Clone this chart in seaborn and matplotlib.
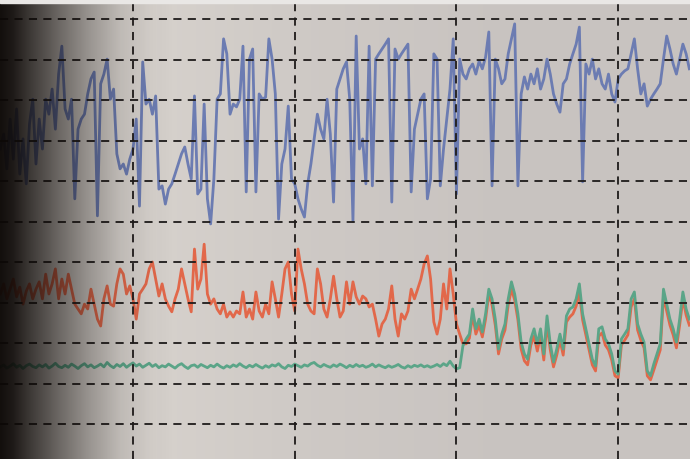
import numpy as np
import pandas as pd
import matplotlib
matplotlib.use("Agg")
import matplotlib.pyplot as plt
import seaborn as sns
from matplotlib.colors import to_rgb

# sample index (grid line every 50 samples)
t = np.arange(9, 223)

blue = [
    67.9, 71.6, 63.0, 75.3, 65.4, 77.8, 61.7, 70.4, 59.3, 74.1,
    80.2, 64.2, 75.3, 67.9, 80.2, 76.5, 82.7, 72.8, 86.4, 93.3,
    77.8, 75.3, 80.2, 55.6, 72.8, 75.3, 76.5, 81.5, 85.2, 86.9,
    51.4, 84.0, 86.4, 90.1, 80.2, 82.7, 66.7, 63.0, 64.2, 61.7,
    65.4, 67.9, 75.3, 53.8, 89.4, 79.0, 80.2, 76.5, 81.0, 58.0,
    58.8, 54.3, 58.0, 59.3, 61.7, 64.2, 66.7, 68.4, 64.2, 60.5,
    81.0, 56.8, 58.0, 79.0, 55.6, 49.4, 60.5, 80.2, 81.5, 95.1,
    91.4, 76.5, 79.0, 78.3, 80.2, 93.3, 57.3, 90.1, 92.6, 57.3,
    81.5, 80.2, 80.7, 95.1, 90.1, 81.5, 50.6, 64.2, 67.9, 78.5,
    60.5, 59.3, 55.6, 53.1, 51.1, 59.3, 64.2, 70.4, 76.5, 72.8,
    70.4, 80.2, 71.6, 54.8, 82.7, 85.2, 87.7, 89.4, 80.2, 50.1,
    95.8, 67.9, 70.4, 59.3, 93.3, 58.8, 90.1, 91.4, 92.6, 93.8,
    95.1, 54.8, 92.6, 90.1, 91.4, 92.6, 93.8, 57.3, 72.8, 76.5,
    80.2, 81.5, 55.6, 60.5, 91.4, 90.1, 58.8, 67.9, 75.3, 82.7,
    95.1, 56.8, 90.1, 86.4, 85.2, 87.7, 88.9, 86.4, 89.6, 87.7,
    90.6, 96.8, 58.8, 90.1, 87.7, 84.0, 85.2, 91.4, 95.1, 98.8,
    58.8, 81.5, 85.7, 82.7, 86.4, 84.0, 87.7, 82.7, 85.2, 90.1,
    86.4, 81.5, 79.0, 77.0, 84.0, 85.2, 88.9, 91.4, 93.8, 98.0,
    59.8, 88.9, 86.4, 90.1, 85.2, 87.7, 84.0, 82.7, 86.4, 81.5,
    79.5, 85.2, 86.4, 87.2, 87.7, 91.4, 95.1, 87.7, 81.5, 84.0,
    78.5, 80.2, 81.5, 82.7, 84.0, 90.1, 95.8, 92.6, 88.9, 86.4,
    90.1, 93.8, 91.4, 87.7,
]

orange = [
    32.1, 34.6, 30.9, 33.3, 35.8, 31.4, 33.8, 29.6, 32.8, 34.6,
    30.9, 33.3, 35.1, 30.9, 37.0, 32.1, 34.6, 38.3, 30.9, 35.8,
    32.1, 37.0, 33.3, 29.6, 28.4, 27.2, 29.6, 28.4, 33.3, 29.6,
    25.9, 24.2, 30.9, 34.1, 29.6, 29.1, 34.6, 38.3, 37.0, 32.1,
    34.1, 30.9, 25.9, 32.1, 33.3, 34.6, 38.3, 40.0, 35.8, 31.6,
    34.6, 30.9, 29.1, 27.7, 30.9, 33.3, 38.3, 34.6, 30.9, 27.7,
    43.2, 33.3, 35.8, 44.4, 32.1, 29.6, 30.9, 28.4, 27.2, 29.6,
    26.4, 27.7, 26.4, 27.9, 27.2, 32.6, 26.4, 28.4, 25.9, 32.6,
    27.9, 26.4, 29.6, 27.2, 35.1, 30.9, 26.4, 32.1, 38.3, 40.0,
    32.1, 27.9, 43.2, 38.3, 34.6, 29.6, 27.9, 27.2, 38.3, 34.6,
    28.4, 26.4, 30.9, 36.5, 30.9, 26.4, 27.9, 35.1, 29.6, 35.1,
    31.4, 29.6, 31.6, 30.9, 28.9, 29.6, 25.9, 21.7, 24.7, 25.9,
    28.4, 34.1, 25.9, 21.7, 27.2, 25.9, 27.9, 33.3, 30.9, 33.3,
    35.8, 39.5, 41.5, 35.8, 25.2, 22.2, 25.9, 34.6, 28.4, 38.3,
    32.1, 24.7, 22.2, 19.8, 19.8, 21.2, 26.9, 22.2, 24.4, 21.5,
    25.9, 32.1, 29.4, 24.4, 17.3, 21.0, 23.2, 29.4, 33.3, 30.6,
    25.7, 18.5, 15.6, 14.6, 19.5, 21.7, 18.0, 22.0, 15.8, 24.9,
    18.3, 14.1, 17.0, 20.7, 17.0, 25.2, 26.4, 27.2, 29.1, 32.6,
    25.7, 22.0, 18.3, 14.6, 13.1, 21.7, 22.5, 19.5, 18.3, 15.8,
    11.9, 11.4, 19.5, 20.7, 22.0, 28.9, 30.9, 23.2, 20.7, 18.8,
    11.9, 10.9, 13.3, 15.8, 18.3, 31.4, 27.9, 24.4, 22.0, 18.8,
    24.4, 30.9, 26.9, 24.4,
]

green = [
    14.1, 14.6, 13.8, 14.3, 14.9, 14.0, 14.5, 13.7, 14.4, 14.8,
    14.2, 13.9, 14.6, 14.1, 14.7, 13.8, 14.3, 15.0, 14.2, 13.9,
    14.5, 14.0, 14.8, 14.3, 13.7, 14.4, 14.9, 14.1, 14.6, 13.9,
    14.3, 14.8, 14.1, 15.2, 14.4, 13.9, 14.7, 14.2, 14.9, 14.0,
    14.6, 15.1, 14.3, 14.8, 14.0, 14.5, 15.0, 14.2, 14.7, 13.9,
    14.4, 14.1, 14.8, 14.3, 13.8, 14.5, 14.9, 14.2, 13.7, 14.4,
    14.6, 14.0, 14.7, 14.3, 13.9, 14.5, 14.1, 14.8, 14.2, 13.8,
    14.4, 14.0, 14.6, 14.2, 14.9, 14.3, 13.9, 14.5, 14.1, 14.7,
    14.2, 13.8, 14.4, 14.0, 14.6, 14.3, 14.9, 14.1, 13.7, 14.5,
    14.2, 14.8, 14.4, 14.0, 14.6, 14.3, 14.9, 15.2, 14.5, 14.1,
    14.7, 14.3, 14.0, 14.6, 14.2, 14.8, 14.4, 13.9, 14.5, 14.1,
    14.7, 14.2, 14.5, 14.0, 14.3, 14.8, 14.1, 14.6, 14.2, 13.9,
    14.4, 14.0, 14.3, 14.7, 14.1, 13.8, 14.4, 14.0, 14.5, 14.2,
    14.6, 14.1, 14.4, 14.0, 14.3, 14.7, 14.2, 14.9, 14.4, 15.5,
    14.3, 13.6, 13.9, 19.3, 21.0, 22.2, 28.4, 23.5, 25.9, 22.7,
    27.2, 33.3, 30.9, 25.9, 18.5, 22.2, 24.7, 30.9, 35.1, 32.1,
    27.2, 20.2, 17.3, 16.0, 21.0, 23.5, 19.8, 23.5, 17.3, 26.7,
    19.8, 15.3, 18.5, 22.2, 18.5, 26.7, 28.4, 28.9, 30.9, 34.6,
    27.2, 23.5, 19.8, 16.0, 14.3, 23.5, 24.0, 21.0, 19.8, 17.3,
    13.1, 12.3, 21.0, 22.2, 23.5, 30.9, 32.6, 24.7, 22.2, 20.2,
    13.1, 11.9, 14.8, 17.3, 19.8, 33.3, 29.6, 25.9, 23.5, 20.2,
    25.9, 32.6, 28.4, 25.9,
]

df = pd.DataFrame({"t": t, "blue": blue, "orange": orange, "green": green})

xlim = (8.88, 222.2)
ylim = (-8.64, 104.94)

fig = plt.figure(figsize=(6.9, 4.6), dpi=100)
ax = fig.add_axes([0, 0, 1, 1])

# paper background, a bit lighter in the middle-left
px = np.linspace(0, 1, 690)
light, dark = np.array(to_rgb("#d7d2cd")), np.array(to_rgb("#c8c3c0"))
w = np.interp(px, [0, 0.2, 0.45, 0.75, 1], [0, 0, 0.6, 1, 1])
bg = light[None, :] * (1 - w[:, None]) + dark[None, :] * w[:, None]
ax.imshow(bg[None, :, :], extent=[*xlim, *ylim], aspect="auto", zorder=0)

sns.lineplot(data=df, x="t", y="blue", color="#6c7cb2", lw=2.0, ax=ax, zorder=2, estimator=None)
sns.lineplot(data=df, x="t", y="orange", color="#e2684a", lw=2.0, ax=ax, zorder=2, estimator=None)
sns.lineplot(data=df, x="t", y="green", color="#5ba588", lw=2.0, ax=ax, zorder=2, estimator=None)

grid_kw = dict(color="#1e1b1a", lw=1.3, ls=(0, (4.5, 3.5)), zorder=3)
for gx in [50, 100, 150, 200]:
    ax.axvline(gx, **grid_kw)
for gy in range(0, 101, 10):
    ax.axhline(gy, **grid_kw)

# dark vignette on the left edge
shade = np.zeros((1, 690, 4))
shade[..., :3] = to_rgb("#0c0806")
shade[0, :, 3] = np.interp(np.arange(690), [0, 12, 30, 60, 90, 120, 150, 175],
                           [0.97, 0.92, 0.76, 0.52, 0.3, 0.12, 0.03, 0])
ax.imshow(shade, extent=[*xlim, *ylim], aspect="auto", zorder=4)

ax.axhspan(104.0, ylim[1], color="#e9e7e5", zorder=5)

ax.set_xlim(*xlim)
ax.set_ylim(*ylim)
ax.set_axis_off()
fig.savefig("out.png", dpi=100)
